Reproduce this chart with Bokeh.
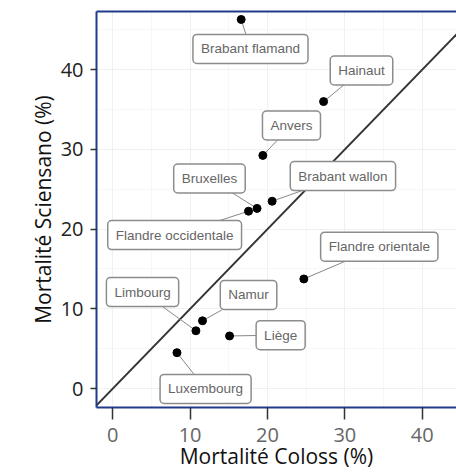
from bokeh.plotting import figure
from bokeh.models import Range1d, FixedTicker, LinearAxis, Slope, ColumnDataSource, Title
from bokeh.core.properties import value
from bokeh.embed import file_html
from bokeh.resources import INLINE

# ---- data ----
provinces = ["Brabant flamand", "Hainaut", "Anvers", "Bruxelles", "Brabant wallon",
             "Flandre occidentale", "Flandre orientale", "Limbourg", "Namur", "Liège",
             "Luxembourg"]
coloss = [16.6, 27.25, 19.4, 18.65, 20.6, 17.55, 24.7, 10.75, 11.6, 15.1, 8.3]
sciensano = [46.3, 36.0, 29.25, 22.6, 23.5, 22.25, 13.75, 7.25, 8.5, 6.6, 4.5]
x_ticks = [0, 10, 20, 30, 40]
y_ticks = [0, 10, 20, 30, 40]

# ---- label anchor layout (repelled label positions, data units) ----
label_x = [17.8, 32.15, 23.1, 12.5, 29.75, 8.0, 34.45, 3.85, 17.55, 21.7, 12.0]
label_y = [42.6, 39.9, 33.0, 26.35, 26.65, 19.25, 17.8, 12.1, 11.75, 6.7, -0.05]

NAVY = "#213b8b"
FONT = "Open Sans"

src = ColumnDataSource(dict(x=coloss, y=sciensano, lx=label_x, ly=label_y, name=provinces))

p = figure(width=456, height=472,
           x_range=Range1d(-2.1, 44.43), y_range=Range1d(-2.375, 47.3),
           output_backend="svg", toolbar_location=None,
           min_border_left=96, min_border_right=0, min_border_top=11, min_border_bottom=0)
p.outline_line_color = None
p.background_fill_color = "white"
p.border_fill_color = "white"

p.xaxis.ticker = FixedTicker(ticks=x_ticks, minor_ticks=[5, 15, 25, 35])
p.yaxis.ticker = FixedTicker(ticks=y_ticks, minor_ticks=[5, 15, 25, 35, 45])
p.xgrid.grid_line_color = "#f0f0f0"
p.ygrid.grid_line_color = "#f0f0f0"
p.xgrid.minor_grid_line_color = "#f7f7f7"
p.ygrid.minor_grid_line_color = "#f7f7f7"

for ax in (p.xaxis[0], p.yaxis[0]):
    ax.axis_line_color = NAVY
    ax.axis_line_width = 2
    ax.major_tick_line_color = "#333333"
    ax.major_tick_line_width = 1.5
    ax.major_tick_in = 0
    ax.minor_tick_in = 0
    ax.minor_tick_out = 0
    ax.major_label_text_font = FONT
    ax.major_label_text_font_size = "20px"

p.xaxis.axis_label = "Mortalité Coloss (%)"
p.xaxis.axis_label_text_font = FONT
p.xaxis.axis_label_text_font_size = "21px"
p.xaxis.axis_label_text_font_style = "normal"
p.xaxis.axis_label_text_color = "#111111"
p.xaxis.major_tick_out = 12
p.yaxis.major_tick_out = 6
p.xaxis.major_label_text_color = "#666666"
p.yaxis.major_label_text_color = "#222222"
p.xaxis.major_label_standoff = 8
p.yaxis.major_label_standoff = 7
p.xaxis.axis_label_standoff = -3

ytitle = Title(text="Mortalité Sciensano (%)", align="center", offset=16,
               text_font=FONT, text_font_size="21px", text_font_style="normal",
               text_color="#111111", standoff=2)
p.add_layout(ytitle, "left")

top = LinearAxis(ticker=FixedTicker(ticks=[]), axis_line_color=NAVY, axis_line_width=2,
                 major_tick_out=0, major_tick_in=0, minor_tick_out=0, minor_tick_in=0,
                 major_label_text_font_size="0px")
p.add_layout(top, "above")

p.add_layout(Slope(gradient=1, y_intercept=0, line_color="#333333", line_width=2,
                   level="underlay"))

p.segment(x0="x", y0="y", x1="lx", y1="ly", source=src, line_color="#888888", line_width=1)
p.scatter(x="x", y="y", source=src, size=8, color="black")
p.text(x="lx", y="ly", text="name", source=src, text_align="center", text_baseline="middle",
       text_font=value("Liberation Sans"), text_font_size="13.5px", text_color="#666666",
       background_fill_color="white", border_line_color="#8c8c8c", border_line_width=1.5,
       padding=(8, 7), border_radius=4)

open("out.html", "w", encoding="utf-8").write(file_html(p, INLINE))
